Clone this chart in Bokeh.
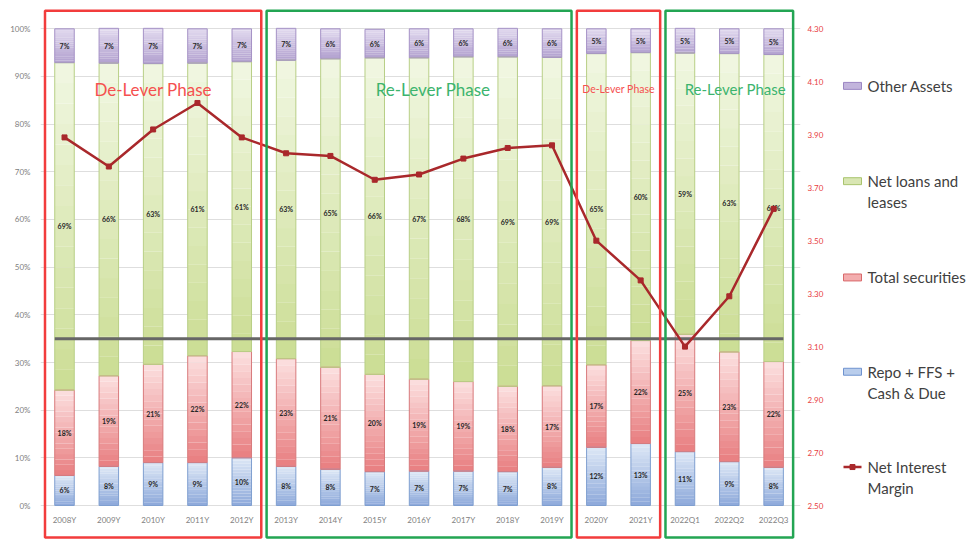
import numpy as np
from bokeh.plotting import figure
from bokeh.models import Range1d, LinearAxis, FixedTicker, PrintfTickFormatter, ColumnDataSource
from bokeh.layouts import row
from bokeh.core.properties import value
from bokeh.embed import file_html
from bokeh.resources import INLINE

# ---------------- data ----------------
categories = ["2008Y", "2009Y", "2010Y", "2011Y", "2012Y", "2013Y", "2014Y", "2015Y",
              "2016Y", "2017Y", "2018Y", "2019Y", "2020Y", "2021Y", "2022Q1", "2022Q2", "2022Q3"]
repo_cash = [6.3, 8.2, 9.0, 9.0, 10.0, 8.2, 7.6, 7.1, 7.2, 7.2, 7.1, 8.0, 12.2, 13.0, 11.3, 9.2, 8.0]
total_securities = [17.9, 19.0, 20.6, 22.4, 22.3, 22.6, 21.4, 20.4, 19.3, 18.8, 17.9, 17.1, 17.3, 21.6, 24.6, 23.0, 22.2]
net_loans = [68.7, 65.6, 63.1, 61.4, 60.8, 62.6, 64.7, 66.4, 67.4, 68.1, 69.1, 68.9, 65.3, 60.4, 59.0, 62.6, 64.4]
other_assets = [7.1, 7.3, 7.4, 7.2, 6.9, 6.7, 6.3, 6.0, 6.1, 5.9, 6.0, 6.0, 5.2, 5.0, 5.2, 5.2, 5.4]
net_interest_margin = [3.89, 3.78, 3.92, 4.02, 3.89, 3.83, 3.82, 3.73, 3.75, 3.81, 3.85, 3.86,
                       3.50, 3.35, 3.10, 3.29, 3.62]
pct_ticks = [0, 10, 20, 30, 40, 50, 60, 70, 80, 90, 100]
nim_ticks = [2.50, 2.70, 2.90, 3.10, 3.30, 3.50, 3.70, 3.90, 4.10, 4.30]
ref_level = 35
phase_names = ["De-Lever Phase", "Re-Lever Phase", "De-Lever Phase", "Re-Lever Phase"]
phase_first = ["2008Y", "2013Y", "2020Y", "2022Q1"]
phase_last = ["2012Y", "2019Y", "2021Y", "2022Q3"]
phase_kind = ["de", "re", "de", "re"]
legend_labels = ["Other Assets", "Net loans and\nleases", "Total securities",
                 "Repo + FFS +\nCash & Due", "Net Interest\nMargin"]

# ---------------- styles ----------------
FONT = "Lato"
series = [  # bottom -> top: (values, light top colour, dark bottom colour, border)
    (repo_cash, (222, 232, 246), (140, 168, 218), "#7f9fd0"),
    (total_securities, (252, 224, 224), (232, 126, 128), "#d87a7c"),
    (net_loans, (241, 247, 226), (203, 221, 148), "#b8cf86"),
    (other_assets, (226, 218, 239), (178, 161, 207), "#a592c6"),
]
phase_color = {"de": "#f23c3c", "re": "#23a553"}
phase_text_color = {"de": "#f5504f", "re": "#3cb46e"}
phase_font = ["17px", "17px", "10.5px", "15px"]
phase_dx = [0, 14, 0, 6]
BAR_W = 0.44
NSLICE = 16

def lerp(c1, c2, f):
    return "#%02x%02x%02x" % tuple(int(round(a + (b - a) * f)) for a, b in zip(c1, c2))

n = len(categories)
xs = np.arange(n, dtype=float)

# main figure geometry
W_MAIN, H = 840, 539
y_lo, y_hi = -7.13, 105.1
px_per_unit = 44.32
x_lo = -24.0 / px_per_unit
x_hi = x_lo + (W_MAIN - 80) / px_per_unit
nim_scale = (nim_ticks[-1] - nim_ticks[0]) / (pct_ticks[-1] - pct_ticks[0])

p = figure(width=W_MAIN, height=H, output_backend="svg", toolbar_location=None,
           x_range=Range1d(x_lo, x_hi), y_range=Range1d(y_lo, y_hi),
           x_axis_location=None, min_border_left=40, min_border_right=40,
           min_border_top=4, min_border_bottom=0)
p.outline_line_color = None
p.background_fill_color = "white"
p.border_fill_color = "white"

# left axis
p.yaxis.ticker = FixedTicker(ticks=pct_ticks)
p.yaxis.formatter = PrintfTickFormatter(format="%d%%")
p.yaxis.axis_line_color = None
p.yaxis.major_tick_line_color = None
p.yaxis.minor_tick_line_color = None
p.yaxis.major_label_text_font = FONT
p.yaxis.major_label_text_font_size = "8px"
p.yaxis.major_label_text_color = "#808080"
p.yaxis.major_label_standoff = 4

p.ygrid.ticker = FixedTicker(ticks=pct_ticks)
p.ygrid.grid_line_color = "#dedede"
p.xgrid.grid_line_color = None

# right axis
p.extra_y_ranges = {"nim": Range1d(nim_ticks[0] + y_lo * nim_scale, nim_ticks[0] + y_hi * nim_scale)}
rax = LinearAxis(y_range_name="nim", ticker=FixedTicker(ticks=nim_ticks),
                 formatter=PrintfTickFormatter(format="%.2f"))
rax.axis_line_color = None
rax.major_tick_line_color = None
rax.minor_tick_line_color = None
rax.major_label_text_font = FONT
rax.major_label_text_font_size = "8px"
rax.major_label_text_color = "#e8403f"
rax.major_label_standoff = 1
p.add_layout(rax, "right")

# stacked bars with vertical gradient
base = np.zeros(n)
q = dict(left=[], right=[], bottom=[], top=[], color=[])
outline = dict(left=[], right=[], bottom=[], top=[], color=[])
lab = dict(x=[], y=[], text=[])
for vals, light, dark, border in series:
    v = np.array(vals, dtype=float)
    for i in range(n):
        b, t = base[i], base[i] + v[i]
        for k in range(NSLICE):
            f = (k + 0.5) / NSLICE
            q["left"].append(xs[i] - BAR_W / 2)
            q["right"].append(xs[i] + BAR_W / 2)
            q["bottom"].append(b + (t - b) * k / NSLICE)
            q["top"].append(b + (t - b) * (k + 1) / NSLICE + 0.02)
            q["color"].append(lerp(dark, light, f))
        outline["left"].append(xs[i] - BAR_W / 2)
        outline["right"].append(xs[i] + BAR_W / 2)
        outline["bottom"].append(b)
        outline["top"].append(t)
        outline["color"].append(border)
        lab["x"].append(xs[i])
        lab["y"].append((b + t) / 2)
        lab["text"].append("%.0f%%" % v[i])
    base = base + v

p.quad(left="left", right="right", bottom="bottom", top="top", fill_color="color",
       line_color=None, source=ColumnDataSource(q))
p.quad(left="left", right="right", bottom="bottom", top="top", fill_color=None,
       line_color="color", line_width=1, source=ColumnDataSource(outline))

# reference level line
p.segment(x0=[xs[0] - BAR_W / 2], x1=[xs[-1] + BAR_W / 2], y0=[ref_level], y1=[ref_level],
          line_color="#666666", line_width=3)

# data labels
p.text(x="x", y="y", text="text", source=ColumnDataSource(lab), text_align="center",
       text_baseline="middle", text_font=value(FONT), text_font_size=value("7px"),
       text_font_style="bold", text_color="#262626")

# category labels
p.text(x=list(xs), y=[-3.0] * n, text=categories, text_align="center", text_baseline="middle",
       text_font=value(FONT), text_font_size=value("8px"), text_color="#808080")

# net interest margin line
p.line(x=list(xs), y=net_interest_margin, y_range_name="nim", line_color="#a9282b", line_width=2.5)
p.scatter(x=list(xs), y=net_interest_margin, y_range_name="nim", marker="square", size=5,
          fill_color="#a9282b", line_color="#a9282b")

# phase boxes
idx = {c: i for i, c in enumerate(categories)}
for j, name in enumerate(phase_names):
    a, b = idx[phase_first[j]], idx[phase_last[j]]
    left, right = a - 0.44, b + 0.44
    p.quad(left=[left], right=[right], bottom=[-6.7], top=[103.8], fill_color=None,
           line_color=phase_color[phase_kind[j]], line_width=2.5)
    p.text(x=[(left + right) / 2], y=[87.3], text=[name], x_offset=phase_dx[j],
           text_align="center", text_baseline="middle", text_font=value(FONT),
           text_font_size=value(phase_font[j]), text_color=phase_text_color[phase_kind[j]])

# ---------------- legend panel ----------------
W_LEG = 971 - W_MAIN
lg = figure(width=W_LEG, height=H, output_backend="svg", toolbar_location=None,
            x_range=Range1d(0, W_LEG), y_range=Range1d(H, 0),
            x_axis_location=None, y_axis_location=None, min_border=0)
lg.outline_line_color = None
lg.xgrid.grid_line_color = None
lg.ygrid.grid_line_color = None

item_y = [82, 178, 275, 370, 466]
swatch_fill = ["#c2b4dc", "#d9e6b3", "#f3adae", "#b9cdec"]
swatch_line = ["#9b86c3", "#a9c46e", "#d9696b", "#6f93cf"]
for j, label in enumerate(legend_labels):
    yy = item_y[j]
    if j < 4:
        lg.quad(left=[3], right=[21], bottom=[yy + 3.5], top=[yy - 3.5], fill_color=swatch_fill[j],
                line_color=swatch_line[j], line_width=1)
    else:
        lg.segment(x0=[3], x1=[21], y0=[yy], y1=[yy], line_color="#a9282b", line_width=2.5)
        lg.scatter(x=[12], y=[yy], marker="square", size=5, fill_color="#a9282b", line_color="#a9282b")
    lines = label.split("\n")
    lg.text(x=[27] * len(lines), y=[yy + 21 * k for k in range(len(lines))], text=lines,
            text_align="left", text_baseline="middle", text_font=value(FONT),
            text_font_size=value("15px"), text_color="#404040")

layout = row(p, lg)
open("out.html", "w").write(file_html(layout, INLINE))
